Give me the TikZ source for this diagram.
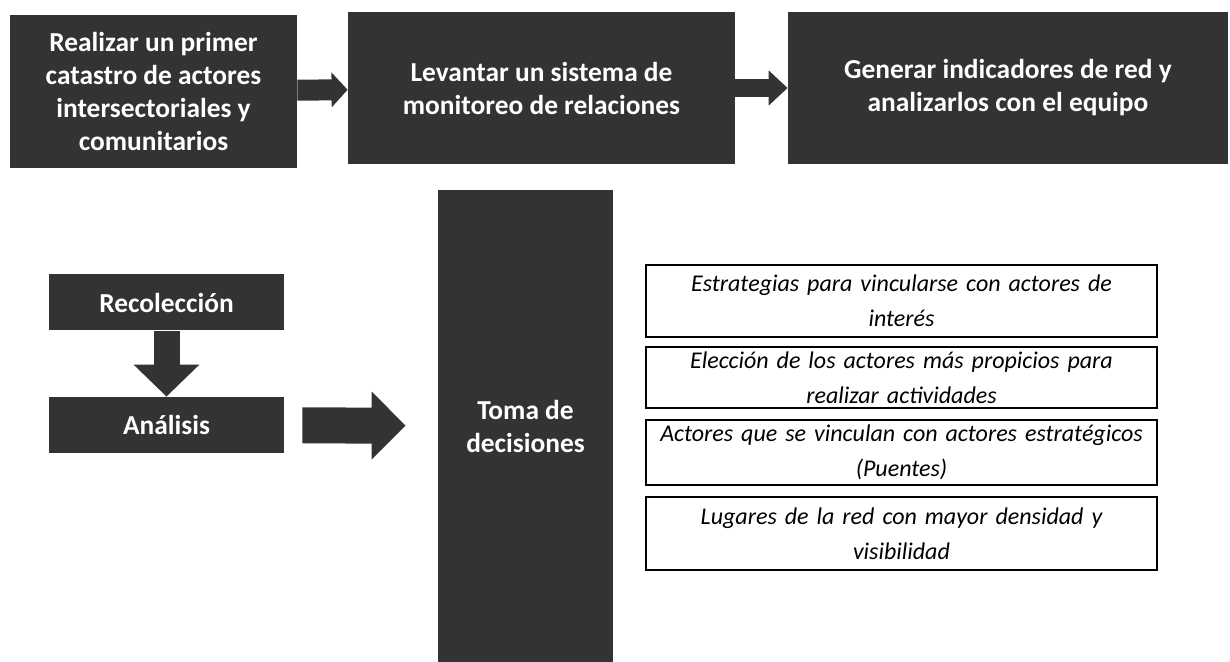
\documentclass[tikz,border=0pt]{standalone}
\usepackage{fontspec}
\setmainfont{Carlito}[ItalicFeatures={WordSpace=0.8}]
\usepackage{tikz}
\usetikzlibrary{arrows.meta}

\begin{document}
\begin{tikzpicture}[
        x=1pt, y=1pt,
        caja/.style={rectangle, fill=black!80, text=white, inner sep=2pt, align=center,
            font=\fontsize{13.7}{16.5}\selectfont\bfseries},
        fila/.style={rectangle, draw=black, line width=0.8pt, inner sep=1pt, align=center,
            minimum width=255.5pt, text width=252pt,
            font=\fontsize{12}{17.5}\selectfont\itshape},
        flecha/.style={draw=black!80, line width=#1}
    ]
        % Canvas
        \useasboundingbox (0,0) rectangle (615,-331);

        % Top row of steps
        \node[caja, minimum width=143.5pt, minimum height=76.5pt] (catastro) at (76.75,-45.75)
            {Realizar un primer\\catastro de actores\\intersectoriales y\\comunitarios};
        \node[caja, minimum width=193.5pt, minimum height=76pt] (monitoreo) at (270.75,-44)
            {Levantar un sistema de\\monitoreo de relaciones};
        \node[caja, minimum width=220pt, minimum height=76pt] (indicadores) at (504,-44)
            {Generar indicadores de red y\\analizarlos con el equipo};

        % Block arrows between the top steps
        \draw[flecha=10.5pt, -{Triangle[length=8pt, width=17pt]}] (catastro) -- (monitoreo);
        \draw[flecha=9pt, -{Triangle[length=9.5pt, width=17pt]}] (monitoreo) -- (indicadores);

        % Cycle: collection and analysis
        \node[caja, minimum width=117.5pt, minimum height=28pt] (recoleccion) at (83.25,-151.25)
            {Recolección};
        \node[caja, minimum width=117.5pt, minimum height=28pt] (analisis) at (83.25,-212.5)
            {Análisis};
        \draw[flecha=13pt, -{Triangle[length=16pt, width=32pt]}] (recoleccion) -- (analisis);

        % Decision column
        \node[caja, minimum width=87.5pt, minimum height=236pt] (toma) at (262.75,-213)
            {Toma de\\decisiones};
        \draw[flecha=18pt, -{Triangle[length=17pt, width=33pt]},
            shorten <=9pt, shorten >=16pt] (analisis) -- (toma);

        % Table of decisions
        \node[fila, minimum height=36pt] (estrategias) at (450.75,-150.5)
            {Estrategias para vincularse con actores de\\interés};
        \node[fila, minimum height=30.5pt] (eleccion) at (450.75,-188.75)
            {Elección de los actores más propicios para\\realizar actividades};
        \node[fila, minimum height=32.5pt] (puentes) at (450.75,-226.25)
            {Actores que se vinculan con actores estratégicos\\(Puentes)};
        \node[fila, minimum height=36.5pt] (lugares) at (450.75,-266.75)
            {Lugares de la red con mayor densidad y\\visibilidad};
\end{tikzpicture}
\end{document}
